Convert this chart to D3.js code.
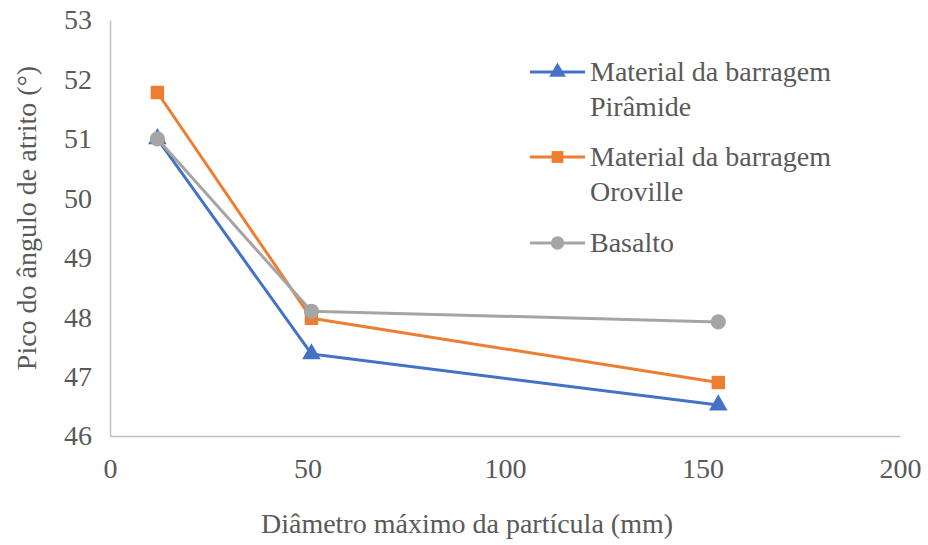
<!DOCTYPE html>
<html>
<head>
<meta charset="utf-8">
<script src="https://cdn.jsdelivr.net/npm/d3@7"></script>
<style>
  body { margin: 0; background: #fff; }
</style>
</head>
<body>
<div id="chart"></div>
<script>
const diameters = [12, 51, 154];
const piramide = [51.0, 47.38, 46.52];
const oroville = [51.78, 47.98, 46.9];
const basalto = [51.0, 48.1, 47.92];
const xTicks = [0, 50, 100, 150, 200];
const yTicks = [46, 47, 48, 49, 50, 51, 52, 53];

const series = [
    { name: ["Material da barragem", "Pirâmide"], values: piramide, color: "#4472C4", symbol: d3.symbolTriangle },
    { name: ["Material da barragem", "Oroville"], values: oroville, color: "#ED7D31", symbol: d3.symbolSquare },
    { name: ["Basalto"], values: basalto, color: "#A5A5A5", symbol: d3.symbolCircle }
];

const font = "Liberation Serif";
const fontSize = 28;
const width = 928, height = 545;
const margin = { top: 20, right: 28, bottom: 109, left: 110 };

const svg = d3.select("#chart").append("svg")
    .attr("width", width)
    .attr("height", height);

const x = d3.scaleLinear().domain([0, 200]).range([margin.left, width - margin.right]);
const y = d3.scaleLinear().domain([46, 53]).range([height - margin.bottom, margin.top]);

// axes
const xAxis = svg.append("g")
    .attr("transform", "translate(0," + y(46) + ")")
    .call(d3.axisBottom(x).tickValues(xTicks).tickFormat(d3.format("d")).tickSize(0).tickPadding(22));
xAxis.select(".domain").attr("stroke", "#bfbfbf").attr("stroke-width", 1.5);
xAxis.selectAll("text")
    .attr("font-family", font).attr("font-size", fontSize).attr("fill", "#595959");

const yAxis = svg.append("g")
    .attr("transform", "translate(" + x(0) + ",0)")
    .call(d3.axisLeft(y).tickValues(yTicks).tickFormat(d3.format("d")).tickSize(0).tickPadding(18));
yAxis.select(".domain").attr("stroke", "#bfbfbf").attr("stroke-width", 1.5);
yAxis.selectAll("text")
    .attr("font-family", font).attr("font-size", fontSize).attr("fill", "#595959");

// axis titles
svg.append("text")
    .attr("x", 467)
    .attr("y", 533)
    .attr("text-anchor", "middle")
    .attr("font-family", font).attr("font-size", fontSize)
    .attr("fill", "#595959")
    .text("Diâmetro máximo da partícula (mm)");

svg.append("text")
    .attr("transform", "translate(36,218) rotate(-90)")
    .attr("text-anchor", "middle")
    .attr("font-family", font).attr("font-size", fontSize)
    .attr("fill", "#595959")
    .text("Pico do ângulo de atrito (°)");

// lines
const line = d3.line()
    .x((d, i) => x(diameters[i]))
    .y(d => y(d));

series.forEach(s => {
    svg.append("path")
        .datum(s.values)
        .attr("fill", "none")
        .attr("stroke", s.color)
        .attr("stroke-width", 3)
        .attr("stroke-linejoin", "round")
        .attr("d", line);

    svg.selectAll(null)
        .data(s.values)
        .enter().append("path")
        .attr("transform", (d, i) => "translate(" + x(diameters[i]) + "," + y(d) + ")")
        .attr("d", d3.symbol().type(s.symbol).size(s.symbol === d3.symbolTriangle ? 150 : 180))
        .attr("fill", s.color);
});

// legend
const legendRows = [72, 157, 243];
series.forEach((s, i) => {
    const g = svg.append("g").attr("transform", "translate(530," + legendRows[i] + ")");
    g.append("line")
        .attr("x1", 0).attr("x2", 55)
        .attr("stroke", s.color).attr("stroke-width", 3);
    g.append("path")
        .attr("transform", "translate(27.5,0)")
        .attr("d", d3.symbol().type(s.symbol).size(s.symbol === d3.symbolTriangle ? 120 : 140))
        .attr("fill", s.color);
    s.name.forEach((t, j) => {
        g.append("text")
            .attr("x", 60)
            .attr("y", j * 35 + 9)
            .attr("font-family", font).attr("font-size", fontSize)
            .attr("fill", "#595959")
            .text(t);
    });
});
</script>
</body>
</html>
